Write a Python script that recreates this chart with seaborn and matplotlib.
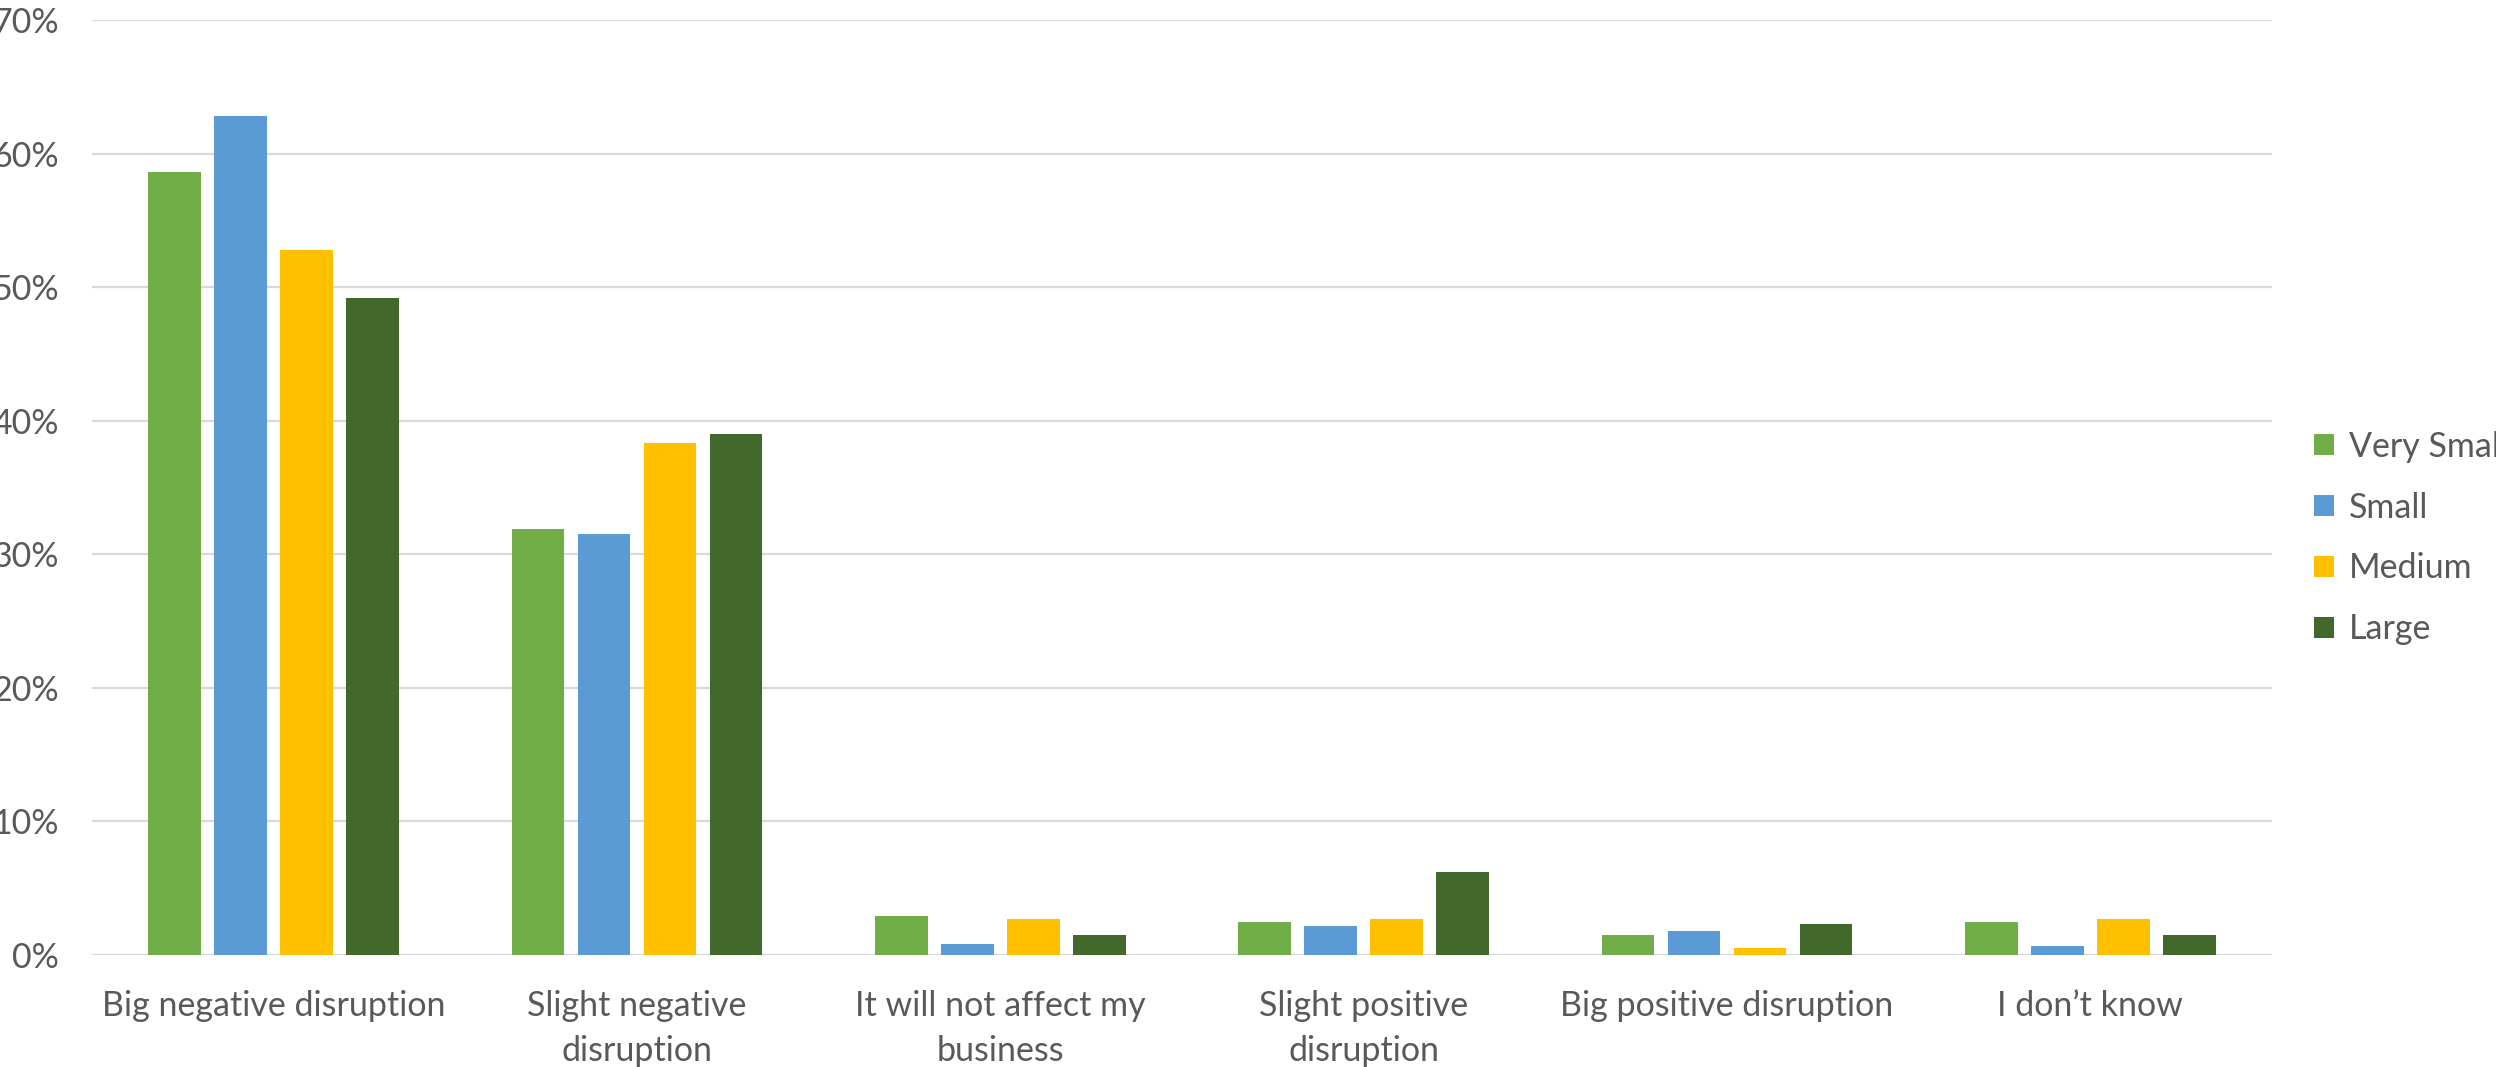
import matplotlib
matplotlib.use("Agg")
import matplotlib.pyplot as plt
from matplotlib.patches import Patch
from matplotlib.ticker import PercentFormatter
import seaborn as sns
import pandas as pd

# Survey answers and company-size groups
categories = [
    "Big negative disruption",
    "Slight negative\ndisruption",
    "It will not affect my\nbusiness",
    "Slight positive\ndisruption",
    "Big positive disruption",
    "I don\u2019t know",
]
sizes = ["Very Small", "Small", "Medium", "Large"]

# Share of respondents (%) per answer, for each company size
very_small = [58.6, 31.9, 2.9, 2.5, 1.5, 2.5]
small = [62.8, 31.5, 0.85, 2.2, 1.8, 0.65]
medium = [52.8, 38.3, 2.7, 2.7, 0.5, 2.7]
large = [49.2, 39.0, 1.5, 6.2, 2.3, 1.5]

colors = ["#70AD47", "#5B9BD5", "#FFC000", "#43682B"]

series = [very_small, small, medium, large]
df = pd.DataFrame(
    [(c, s, v) for s, vals in zip(sizes, series) for c, v in zip(categories, vals)],
    columns=["answer", "size", "share"],
)

sns.set_theme(style="white")
plt.rcParams["font.family"] = ["Lato", "DejaVu Sans"]
text_color = "#595959"
grid_color = "#D9D9D9"
font_size = 24.5

fig = plt.figure(figsize=(24.96, 10.67), dpi=100)
ax = fig.add_axes([92 / 2496, 1 - 955 / 1067, (2272 - 92) / 2496, (955 - 20) / 1067])

sns.barplot(
    data=df, x="answer", y="share", hue="size", hue_order=sizes,
    order=categories, palette=colors, saturation=1,
    width=0.727, gap=0.2, ax=ax, legend=False, linewidth=0,
)

ax.set_ylim(0, 70)
ax.set_xlim(-0.5, len(categories) - 0.5)
ax.set_yticks(range(0, 71, 10))
ax.yaxis.set_major_formatter(PercentFormatter(decimals=0))
ax.grid(axis="y", color=grid_color, linewidth=1.6)
ax.set_axisbelow(True)
for sp in ax.spines.values():
    sp.set_visible(False)
ax.axhline(0, color=grid_color, linewidth=2.0, zorder=0.5)

ax.set_xlabel("")
ax.set_ylabel("")
ax.tick_params(axis="both", length=0, labelsize=font_size, colors=text_color)
ax.tick_params(axis="y", pad=24)
ax.tick_params(axis="x", pad=25)
for lbl in ax.get_xticklabels():
    lbl.set_linespacing(1.5)
    lbl.set_ha("center")

handles = [Patch(facecolor=c, edgecolor="none") for c in colors]
fig.legend(
    handles, sizes, loc="center left", bbox_to_anchor=(2314 / 2496, 1 - 538 / 1067),
    frameon=False, fontsize=font_size, labelcolor=text_color,
    handlelength=0.6, handleheight=0.6, handletextpad=0.42, labelspacing=0.85,
    borderpad=0, borderaxespad=0,
)

fig.savefig("out.png", dpi=100)
